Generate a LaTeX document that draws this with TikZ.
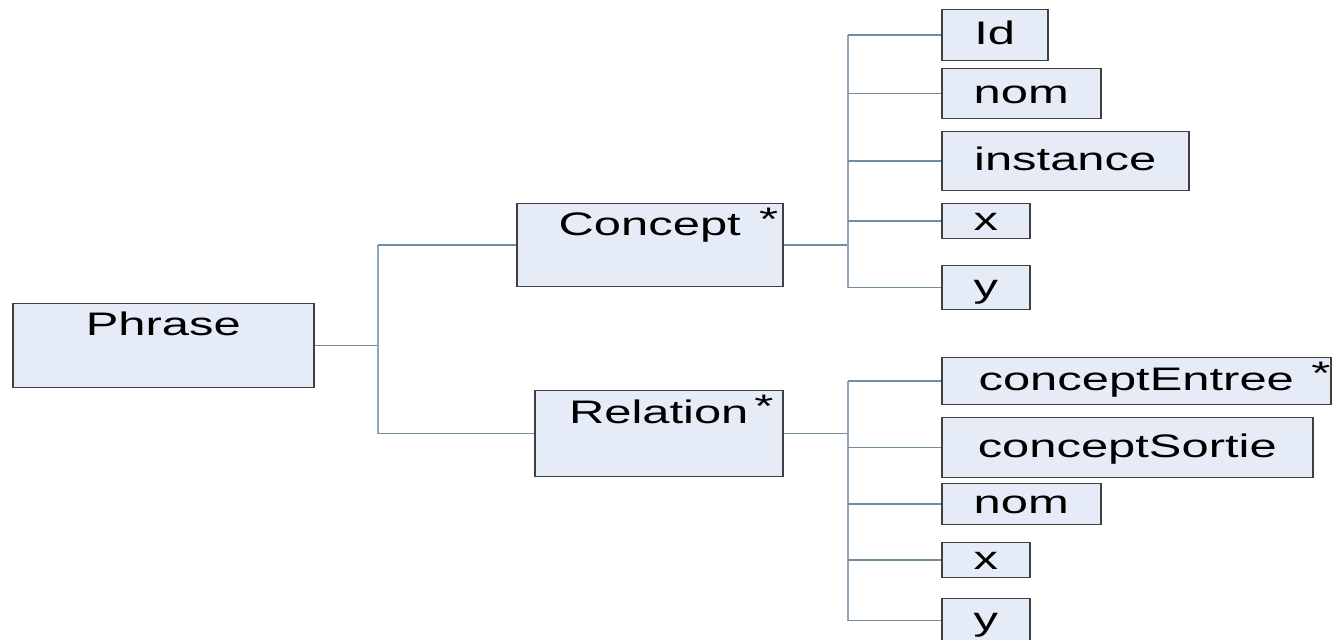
\documentclass[tikz,border=0pt]{standalone}
\usepackage{fontspec}
\setmainfont[FakeStretch=1.5]{Liberation Sans}
\usetikzlibrary{positioning,calc}

\definecolor{boxfill}{RGB}{230,236,247}
\definecolor{boxline}{RGB}{64,64,64}
\definecolor{linkline}{RGB}{112,142,160}
\definecolor{busline}{RGB}{140,165,190}

\begin{document}
\begin{tikzpicture}[
  x=0.5pt,
  y=-0.5pt,
	every node/.style={
		font=\fontsize{16.3pt}{19pt}\selectfont,
		text centered
	},
	field/.style={
		rectangle,
		anchor=north west,
		draw=boxline,
		fill=boxfill,
		line width=0.75pt,
		inner xsep=0pt,
		inner ysep=1pt,
		text height=11.7pt,
		text depth=2.2pt
	},
	entity/.style={
		field,
		inner ysep=4pt,
		text depth=21.8pt
	},
	starred/.style={
		label={[inner sep=2.5pt, anchor=north east, xshift=#1]north east:*}
	},
	link/.style={
		draw=linkline,
		line width=0.75pt
	},
	bus/.style={
		draw=busline,
		line width=1.2pt
	}
]
  \useasboundingbox (0,0) rectangle (1335,640);

  \node (Phrase) [entity, minimum width=150.5pt, minimum height=42pt] at (12,303) {Phrase};
  \node (Concept) [entity, starred=0pt, minimum width=133pt, minimum height=41.5pt] at (516,203) {Concept};
  \node (Relation) [entity, starred=-2.3pt, minimum width=124pt, minimum height=43pt] at (534,390) {Relation};

  \node (CId) [field, minimum width=53pt, minimum height=25.5pt] at (941,9) {Id};
  \node (CNom) [field, minimum width=79.5pt, minimum height=25pt] at (941,68) {nom};
  \node (CInstance) [field, minimum width=123.5pt, minimum height=29.5pt] at (941,131) {instance};
  \node (CX) [field, minimum width=44pt, minimum height=17.5pt] at (941,203) {x};
  \node (CY) [field, minimum width=44pt, minimum height=22pt] at (941,265) {y};

  \node (REntree) [field, starred=2.2pt, minimum width=194.5pt, minimum height=23.5pt] at (941,357) {conceptEntree};
  \node (RSortie) [field, minimum width=185.5pt, minimum height=30pt] at (941,417) {conceptSortie};
  \node (RNom) [field, minimum width=79.5pt, minimum height=20.5pt] at (941,483) {nom};
  \node (RX) [field, minimum width=44pt, minimum height=17.5pt] at (941,542) {x};
  \node (RY) [field, minimum width=44pt, minimum height=22pt] at (941,598) {y};

  \coordinate (PhraseBus) at (378,0);
  \coordinate (ConceptBus) at (848,0);
  \coordinate (RelationBus) at (848,0);

  \draw[link] (Phrase.east) -- (Phrase.east -| PhraseBus);
  \draw[bus] (PhraseBus |- Concept.west) -- (PhraseBus |- Relation.west);
  \draw[link] (PhraseBus |- Concept.west) -- (Concept.west);
  \draw[link] (PhraseBus |- Relation.west) -- (Relation.west);

  \draw[link] (Concept.east) -- (Concept.east -| ConceptBus);
  \draw[bus] (ConceptBus |- CId.west) -- (ConceptBus |- CY.west);
  \foreach \n in {CId,CNom,CInstance,CX,CY}
    \draw[link] (ConceptBus |- \n.west) -- (\n.west);

  \draw[link] (Relation.east) -- (Relation.east -| RelationBus);
  \draw[bus] (RelationBus |- REntree.west) -- (RelationBus |- RY.west);
  \foreach \n in {REntree,RSortie,RNom,RX,RY}
    \draw[link] (RelationBus |- \n.west) -- (\n.west);
\end{tikzpicture}
\end{document}
